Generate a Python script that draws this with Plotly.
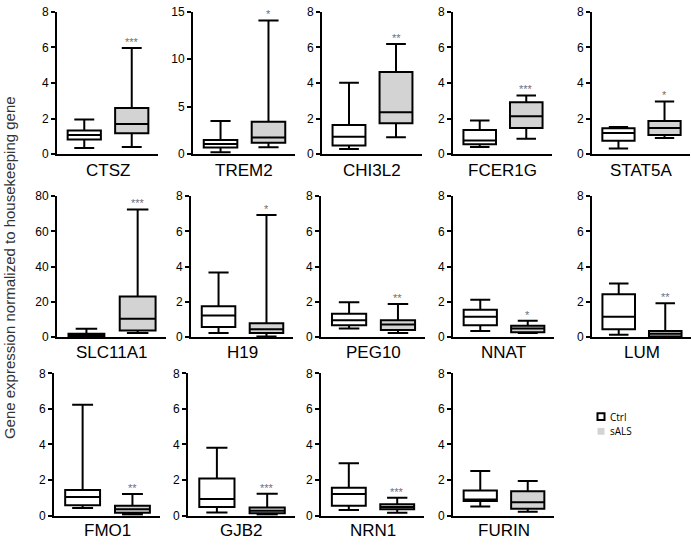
import plotly.graph_objects as go

W_PX, H_PX = 691, 545

genes = ["CTSZ", "TREM2", "CHI3L2", "FCER1G", "STAT5A",
         "SLC11A1", "H19", "PEG10", "NNAT", "LUM",
         "FMO1", "GJB2", "NRN1", "FURIN"]

# [lower whisker, Q1, median, Q3, upper whisker]
ctrl_low = [0.35, 0.21, 0.29, 0.40, 0.31, 0.3, 0.24, 0.50, 0.35, 0.15, 0.42, 0.18, 0.31, 0.51]
ctrl_q1  = [0.82, 0.69, 0.49, 0.55, 0.75, 0.6, 0.59, 0.68, 0.68, 0.46, 0.58, 0.49, 0.55, 0.82]
ctrl_med = [1.08, 1.07, 0.98, 0.77, 1.19, 1.2, 1.23, 0.97, 1.16, 1.16, 1.04, 0.93, 1.21, 0.90]
ctrl_q3  = [1.33, 1.48, 1.64, 1.36, 1.45, 2.0, 1.76, 1.34, 1.56, 2.44, 1.44, 2.08, 1.56, 1.41]
ctrl_up  = [1.95, 3.48, 4.02, 1.89, 1.53, 4.8, 3.67, 1.99, 2.13, 3.05, 6.23, 3.81, 2.95, 2.51]

sals_low = [0.40, 0.72, 0.95, 0.86, 0.90, 2.4, 0.04, 0.24, 0.24, 0.02, 0.05, 0.05, 0.16, 0.22]
sals_q1  = [1.17, 1.21, 1.73, 1.47, 1.08, 3.9, 0.24, 0.42, 0.29, 0.05, 0.16, 0.13, 0.35, 0.38]
sals_med = [1.70, 1.76, 2.36, 2.13, 1.47, 10.5, 0.46, 0.72, 0.50, 0.20, 0.35, 0.27, 0.49, 0.75]
sals_q3  = [2.59, 3.41, 4.62, 2.92, 1.86, 23.1, 0.79, 0.97, 0.66, 0.35, 0.55, 0.46, 0.64, 1.37]
sals_up  = [5.97, 14.1, 6.20, 3.30, 2.96, 72.4, 6.93, 1.88, 0.94, 1.93, 1.22, 1.23, 1.01, 1.94]

significance = ["***", "*", "**", "***", "*", "***", "*", "**", "*", "**", "**", "***", "***", ""]

y_max = [8, 15, 8, 8, 8, 80, 8, 8, 8, 8, 8, 8, 8, 8]
y_step = [2, 5, 2, 2, 2, 20, 2, 2, 2, 2, 2, 2, 2, 2]

y_title = "Gene expression normalized to housekeeping gene"
legend_labels = ["Ctrl", "sALS"]

# layout geometry (pixels): axis left x, axis width, row
panel_x = [57, 193, 322, 453, 592, 57, 191, 321, 453, 592, 54, 188, 321, 453]
panel_w = [101, 102, 100, 99, 98, 109, 102, 104, 101, 99, 106, 107, 103, 101]
panel_row = [0, 0, 0, 0, 0, 1, 1, 1, 1, 1, 2, 2, 2, 2]
row_top = [5, 194, 376]
row_bot = [151, 339, 522]
label_off = [17, 16, 15]

FONT = "Liberation Sans, Arial, sans-serif"
fig = go.Figure()
annotations = []
shapes = []

for i, g in enumerate(genes):
    n = i + 1
    xa = "x" if n == 1 else f"x{n}"
    ya = "y" if n == 1 else f"y{n}"
    for j, (lo, q1, md, q3, up, fill) in enumerate([
        (ctrl_low, ctrl_q1, ctrl_med, ctrl_q3, ctrl_up, "white"),
        (sals_low, sals_q1, sals_med, sals_q3, sals_up, "#d3d3d3"),
    ]):
        fig.add_trace(go.Box(
            x=[j], q1=[q1[i]], median=[md[i]], q3=[q3[i]],
            lowerfence=[lo[i]], upperfence=[up[i]],
            xaxis=xa, yaxis=ya, width=0.7, whiskerwidth=0.6,
            fillcolor=fill, line=dict(color="black", width=2),
            boxpoints=False, showlegend=False, hoverinfo="skip",
            name=legend_labels[j],
        ))
    ax, w, r = panel_x[i], panel_w[i], panel_row[i]
    unit = 0.47 * w
    x0 = -0.27 * w / unit
    x1 = (w - 0.27 * w) / unit
    xd = [ax / W_PX, (ax + w) / W_PX]
    yd = [1 - row_bot[r] / H_PX, 1 - row_top[r] / H_PX]
    ticks = list(range(0, y_max[i] + 1, y_step[i]))
    fig.layout[("xaxis" if n == 1 else f"xaxis{n}")] = dict(
        domain=xd, range=[x0, x1], showline=True, linewidth=2, linecolor="black",
        showticklabels=False, ticks="", showgrid=False, zeroline=False,
        anchor=ya, fixedrange=True)
    fig.layout[("yaxis" if n == 1 else f"yaxis{n}")] = dict(
        domain=yd, range=[0, y_max[i]], showline=True, linewidth=2, linecolor="black",
        tickvals=ticks, ticks="outside", ticklen=4, tickwidth=2, tickcolor="black",
        showgrid=False, zeroline=False, anchor=xa,
        tickfont=dict(family=FONT, size=12, color="black"), fixedrange=True)
    annotations.append(dict(
        xref="paper", yref="paper", x=(ax + w / 2) / W_PX,
        y=1 - (row_bot[r] + label_off[r]) / H_PX,
        text=g, showarrow=False, xanchor="center", yanchor="middle",
        font=dict(family=FONT, size=17, color="black")))
    if significance[i]:
        annotations.append(dict(
            xref=xa, yref=ya, x=1, y=sals_up[i], text=significance[i],
            showarrow=False, xanchor="center", yanchor="bottom", yshift=-2,
            font=dict(family=FONT, size=11, color="#707070")))

annotations.append(dict(
    xref="paper", yref="paper", x=9 / W_PX, y=1 - 268 / H_PX, text=y_title,
    textangle=-90, showarrow=False, xanchor="center", yanchor="middle",
    font=dict(family=FONT, size=15, color="#333333")))

# legend
leg_fills = ["white", "#d3d3d3"]
leg_lines = [2, 0]
for k, lab in enumerate(legend_labels):
    yc = 420.5 + k * 15
    shapes.append(dict(
        type="rect", xref="paper", yref="paper",
        x0=597.5 / W_PX, x1=604.5 / W_PX, y0=1 - (yc - 3.5) / H_PX, y1=1 - (yc + 3.5) / H_PX,
        fillcolor=leg_fills[k], line=dict(color="black", width=leg_lines[k]) if leg_lines[k] else dict(width=0)))
    annotations.append(dict(
        xref="paper", yref="paper", x=608 / W_PX, y=1 - yc / H_PX, text=lab,
        showarrow=False, xanchor="left", yanchor="middle",
        font=dict(family="Open Sans, sans-serif", size=10, color="black")))

fig.update_layout(
    width=W_PX, height=H_PX, margin=dict(l=0, r=0, t=0, b=0),
    paper_bgcolor="white", plot_bgcolor="white",
    annotations=annotations, shapes=shapes, showlegend=False,
    font=dict(family=FONT),
)
fig.write_html(
    "out.html",
    config={"displayModeBar": False, "staticPlot": True},
    post_script="document.body.style.margin='0';document.body.style.overflow='hidden';",
)
